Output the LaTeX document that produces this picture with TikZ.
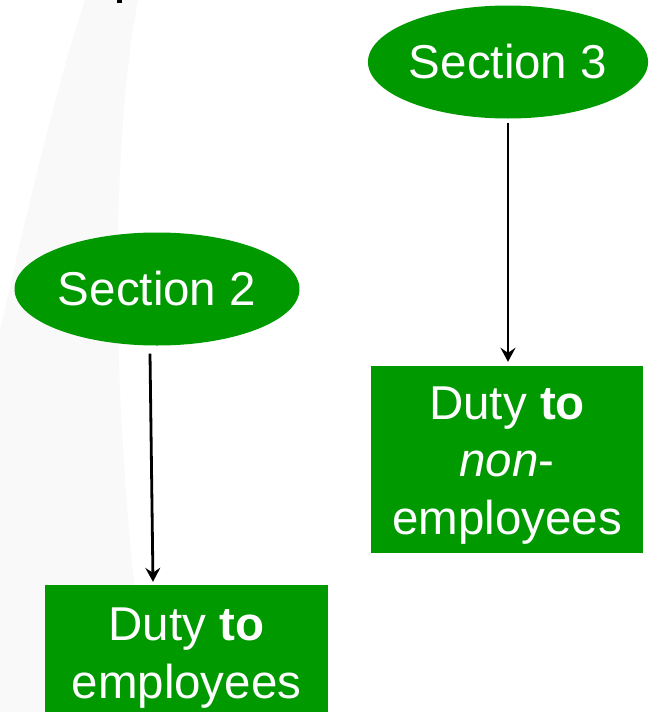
\documentclass[tikz,border=0pt]{standalone}
\usepackage{fontspec}
\setmainfont{Liberation Sans}
\usetikzlibrary{shapes.geometric}
\usetikzlibrary{arrows.meta}
\definecolor{slidegreen}{RGB}{0,153,0}
\definecolor{swoosh}{RGB}{249,249,249}
\tikzset{
  section/.style={ellipse, fill=slidegreen, text=white, inner sep=0pt,
    font=\fontsize{47.5}{57}\selectfont},
  duty/.style={rectangle, fill=slidegreen, inner sep=0pt},
  dutytext/.style={text=white, inner sep=0pt, align=center,
    font=\fontsize{47.5}{57.5}\selectfont},
  link/.style={black, line width=2.8pt, -{Stealth[length=14pt,width=15pt,inset=5pt]}}
}

\begin{document}
\begin{tikzpicture}[x=1pt,y=-1pt]
        \useasboundingbox (0,0) rectangle (651,712);
        \clip (0,0) rectangle (651,712);

        \fill[swoosh] (85,0) -- (138,0) .. controls (110,150) and (108,420) .. (150,712)
            -- (0,712) -- (0,330) .. controls (25,220) and (55,90) .. (85,0) -- cycle;
        \fill[black] (117,0) rectangle (122,3);

        \node[section, minimum width=285pt, minimum height=113pt] (s2) at (157,289) {Section 2};
        \node[section, minimum width=274pt, minimum height=113pt] (s3) at (508,62) {Section 3};

        \node[duty, minimum width=283pt, minimum height=136pt] (d2) at (186.5,653) {};
        \node[duty, minimum width=272pt, minimum height=187pt] (d3) at (507,459.5) {};
        \node[dutytext] (t2) at ([yshift=-5pt]d2.center) {Duty \textbf{to}\\employees};
        \node[dutytext] (t3) at ([yshift=-6pt]d3.center) {Duty \textbf{to}\\\textit{non}-\\employees};

        \draw[link] ([xshift=-7pt,yshift=-8pt]s2.south) -- ([xshift=-33.5pt,yshift=3pt]d2.north);
        \draw[link] ([yshift=-4pt]s3.south) -- ([xshift=1pt,yshift=4pt]d3.north);
    \end{tikzpicture}
\end{document}
